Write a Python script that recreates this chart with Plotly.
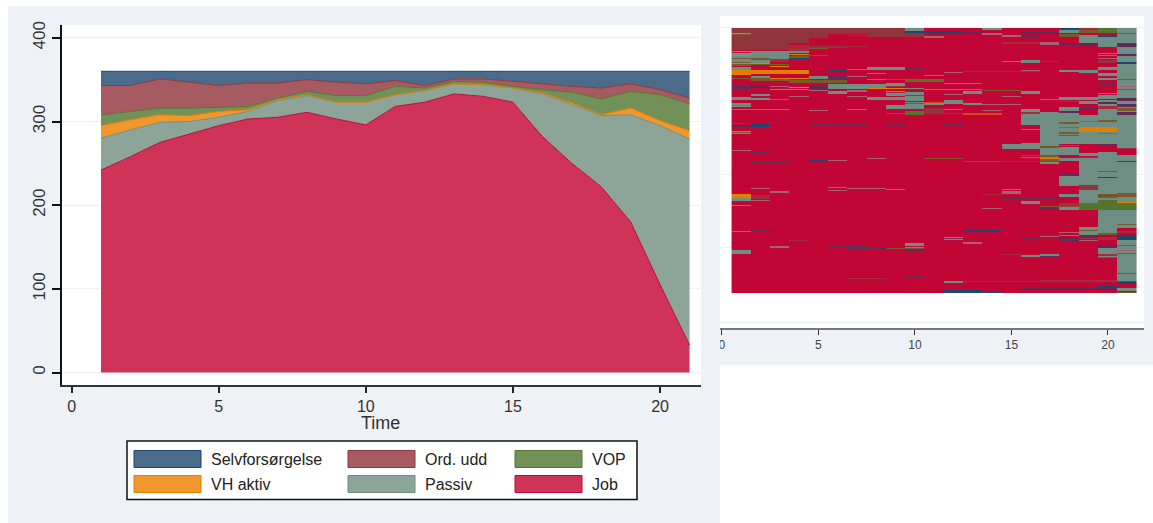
import plotly.graph_objects as go

# ---------- left chart: number of people per state at each time ----------
time = list(range(1, 22))
job = [242,258,275,285,295,303,305,311,303,296,318,323,333,330,323,282,250,222,180,105,33]
passiv = [38,32,24,15,10,9,20,20,20,27,14,14,12,14,17,51,70,85,128,190,246]
vh_aktiv = [15,12,9,7,7,2,1,1,0,0,0,0,0,0,0,1,2,1,8,6,10]
vop = [13,10,8,9,5,4,2,4,8,8,10,3,3,3,2,4,13,19,20,31,32]
ord_udd = [35,31,35,31,26,28,18,14,16,14,7,3,3,4,6,7,7,13,9,6,7]
selv = [17,17,9,13,17,14,14,10,13,15,11,17,9,9,12,15,18,20,15,22,32]

names = ["Selvforsørgelse", "Ord. udd", "VOP", "VH aktiv", "Passiv", "Job"]
line_cols = ["#1a476f", "#90353b", "#55752f", "#e37e00", "#6e8e84", "#c10534"]
fill_cols = ["#4a6b8a", "#a65b62", "#729158", "#f0982e", "#8ca598", "#cf3358"]
y_ticks = [0, 100, 200, 300, 400]
x_ticks = [0, 5, 10, 15, 20]

# ---------- right chart: sequence index plot ----------
S, O, V, H, P, J = 1, 2, 3, 4, 5, 6
s, o, v, h, p = 7, 8, 9, 10, 11
n_rows = 265
n_cols = 21
cell_cols = ["#1a476f", "#90353b", "#55752f", "#e37e00", "#6e8e84", "#c10534",
             "#5f2a55", "#a82a3c", "#7a5a2a", "#d84a10", "#a9606f"]
seq_runs = [
 (1,3,0,21,O),(4,4,0,14,O),(4,4,17,22,o),(5,5,0,9,O),(6,7,0,5,O),(8,9,0,8,O),(10,10,5,8,O),
 (5,6,18,19,O),(7,7,7,7,o),(7,7,18,18,o),(1,1,5,5,H),(1,1,6,6,v),
 (10,10,0,2,P),(10,12,3,4,S),(11,11,8,9,p),(13,13,4,5,s),(14,14,0,1,P),(14,14,5,6,p),(15,15,7,8,p),
 (16,17,4,5,s),(16,16,7,8,s),(17,17,14,16,p),(15,16,14,15,o),
 (18,18,0,0,S),(18,18,2,4,P),(18,18,6,8,v),(18,19,15,16,s),(19,19,0,1,o),(19,19,2,4,v),(19,19,7,14,P),
 (20,20,0,4,V),(20,20,8,9,S),(20,20,9,18,P),(21,21,0,5,P),(21,21,5,6,v),(21,21,6,14,P),(21,21,16,19,s),
 (21,21,19,25,P),(21,21,26,28,s),(21,21,28,33,P),(21,21,34,36,S),(21,21,36,92,P),
 (1,1,23,23,H),(1,1,25,33,P),(1,1,25,25,H),(1,1,27,27,H),(1,1,30,30,v),(1,1,34,34,v),(1,1,35,35,H),
 (1,1,36,37,v),(1,1,39,41,P),(2,3,23,30,P),(2,2,30,31,v),(2,2,32,36,P),(2,2,35,35,H),(3,3,31,33,o),
 (2,3,36,36,v),(3,3,38,38,H),(4,4,23,24,P),(4,4,26,26,H),(4,4,28,29,v),(4,4,30,30,S),
 (5,5,20,20,v),(5,5,27,27,v),(1,4,42,45,H),(1,1,46,46,H),
 (1,1,50,50,v),(2,2,48,49,P),(2,2,50,52,v),(3,3,50,50,H),(3,3,51,52,v),(4,4,50,50,H),(4,4,52,54,v),
 (5,5,48,50,P),(5,6,52,54,v),(6,6,42,42,S),(6,6,48,48,s),(6,6,50,50,s),(7,7,41,41,p),(7,7,48,48,p),
 (8,8,45,45,p),(8,8,51,51,p),(8,9,39,41,P),(10,10,40,40,s),(9,9,51,51,v),(10,11,51,53,V),(11,11,47,47,p),
 (12,12,44,44,p),(12,12,47,47,s),(12,13,55,55,p),
 (6,8,56,60,P),(9,9,55,57,P),(9,9,60,60,H),(8,8,60,60,H),(7,7,59,59,H),(9,9,58,58,o),
 (1,2,58,59,s),(3,3,58,58,p),(4,4,59,59,H),(4,4,61,61,P),(3,3,61,61,P),(1,1,60,60,s),(5,5,58,60,s),
 (5,5,62,62,p),(6,6,61,61,s),(6,6,63,65,P),(7,7,62,63,p),(7,7,68,68,p),
 (1,1,69,71,P),(2,2,66,67,P),(2,2,70,71,P),(3,3,71,71,h),(4,4,68,68,p),(5,5,67,67,s),(5,8,71,71,s),
 (8,9,69,71,P),(10,10,64,72,P),(10,10,67,67,o),(9,9,63,67,P),(9,9,64,64,o),(10,10,60,60,P),(11,11,61,61,p),
 (12,13,61,61,p),(12,12,66,66,p),(13,13,63,65,P),(14,15,62,62,v),(16,16,63,65,P),(15,15,68,68,p),
 (1,1,75,78,P),(1,1,77,77,p),(1,3,81,81,p),(5,5,82,82,p),(7,7,81,81,p),
 (9,9,77,80,P),(10,10,74,80,P),(10,10,75,75,v),(11,11,74,74,h),(11,11,75,76,P),(12,12,72,75,P),(12,12,77,77,s),
 (13,13,75,76,P),(14,14,76,76,p),(15,15,76,76,p),
 (9,11,85,85,v),(10,10,83,86,V),(11,11,80,85,O),(12,12,81,81,p),(12,12,85,85,o),(13,14,85,86,h),(14,14,82,82,p),
 (1,1,95,95,o),(1,1,97,98,s),(2,2,96,98,S),(3,4,97,97,s),(5,7,96,96,s),(9,9,96,96,s),(12,12,96,96,s),
 (11,12,103,103,s),(1,1,103,105,P),(1,1,104,104,v),
 (1,1,122,122,p),(2,2,124,124,s),(2,3,134,134,s),(5,5,132,132,S),(6,6,132,132,p),(8,8,130,130,p),
 (11,12,130,130,v),(13,14,133,133,v),(15,16,133,133,o),
 (13,16,43,43,o),(16,16,32,34,P),(15,15,33,33,p),(17,17,33,33,o),(18,19,33,33,s),(16,16,42,42,p),(18,19,42,43,P),
 (20,20,25,25,p),(20,20,27,27,p),(20,20,30,30,p),(20,20,32,34,o),(20,20,35,35,s),(20,20,39,41,P),(20,20,45,47,P),
 (20,20,50,51,P),(20,20,56,56,s),(20,20,65,65,p),(20,20,67,70,P),(20,20,72,85,P),(20,20,74,75,s),(20,20,78,80,o),
 (21,21,51,51,v),(21,21,58,58,p),(21,21,61,61,v),
 (19,19,69,71,P),(19,19,44,44,P),(18,18,69,71,P),(18,18,73,73,o),(18,18,79,83,P),(18,18,83,84,s),
 (19,19,77,77,s),(19,19,80,81,s),(19,19,73,75,P),(17,17,71,71,p),(17,17,75,75,s),(17,17,83,83,s),
 (21,21,70,72,s),(21,21,76,78,s),(21,21,84,86,s),(21,21,80,82,v),
 (16,16,81,96,P),(16,16,84,85,o),(16,16,101,101,p),(17,17,84,115,P),(18,18,85,114,P),(18,18,94,95,v),(18,18,99,99,h),
 (18,18,104,105,v),(19,19,87,114,P),(19,19,93,93,h),(19,19,99,103,H),(20,20,85,114,P),(20,20,92,93,v),
 (20,21,99,103,H),(20,21,105,105,h),(21,21,92,114,P),
 (15,15,116,120,P),(15,15,115,115,s),(16,16,115,120,P),
 (17,17,115,126,P),(17,17,118,119,v),(17,17,124,135,P),(17,17,127,128,v),(17,17,130,130,H),(17,17,131,133,v),
 (16,16,127,127,v),(16,16,129,129,p),
 (18,18,115,115,P),(18,18,107,107,v),(18,18,116,118,J),(18,18,117,117,v),(18,18,119,126,P),(18,18,130,133,P),(18,18,133,133,s),
 (18,18,145,146,s),(18,18,148,157,P),
 (19,19,115,115,P),(19,19,123,123,s),(19,19,125,127,P),(19,19,129,129,o),(19,19,130,174,P),(19,19,157,161,O),
 (20,20,115,115,P),(20,20,124,164,P),(20,20,116,116,s),(20,20,143,143,v),(20,20,149,149,s),
 (21,21,115,119,P),(21,21,120,126,J),(21,21,120,120,o),(21,21,125,125,s),(21,21,127,132,P),(21,21,134,174,P),
 (19,19,175,181,V),(20,20,165,171,P),(20,20,166,169,v),(20,20,167,167,o),(20,20,172,181,V),(20,20,182,204,P),
 (20,20,205,207,v),(20,20,207,207,s),(20,20,209,211,o),(20,20,212,216,J),(21,21,165,168,v),(21,21,174,174,H),(21,21,175,181,V),
 (21,21,182,199,P),(21,21,196,196,v),(21,21,200,206,J),(21,21,203,204,o),(21,21,207,211,S),(21,21,212,252,P),
 (19,19,199,206,P),(19,19,202,202,v),(19,19,207,211,s),(19,19,210,210,o),
 (18,18,166,168,P),(18,18,175,177,o),(18,18,178,178,v),(18,18,179,181,P),(18,18,204,204,p),(18,18,207,207,p),(18,18,209,210,s),
 (17,17,178,178,v),(17,17,180,180,s),(16,16,173,175,P),(15,17,170,170,s),(16,18,165,165,s),(15,15,163,165,p),
 (14,14,166,166,o),(13,13,165,165,s),(14,15,175,175,s),(14,14,180,180,p),(15,17,181,181,s),
 (13,14,202,203,S),(15,16,201,201,s),(12,12,209,211,P),(12,12,210,210,s),(10,10,215,217,P),(13,13,214,214,p),
 (16,16,210,210,s),(17,17,208,208,p),
 (1,1,166,169,H),(1,1,170,171,P),(2,2,167,170,h),(2,2,167,170,o),(2,2,172,172,p),(1,1,172,172,P),(1,1,175,175,s),(1,1,177,177,p),
 (3,3,163,164,p),(6,6,162,162,p),(1,1,157,157,s),(2,2,160,160,p),(6,6,159,159,p),(7,7,157,157,s),(7,7,160,160,p),
 (8,9,157,157,s),(8,8,160,160,p),(9,9,161,161,p),(15,15,161,161,p),(8,8,175,175,s),
 (1,1,203,203,p),(2,2,202,202,s),(3,3,201,201,s),(5,5,197,197,s),(4,4,212,212,o),
 (3,3,218,219,p),(6,7,218,218,s),(7,8,220,220,s),(9,9,220,220,v),(10,10,219,219,P),(10,10,220,220,v),(10,10,221,222,s),(13,13,215,215,p),
 (1,1,222,225,P),(15,15,226,226,o),(16,16,227,228,P),(17,17,226,227,P),(17,17,228,228,s),
 (20,20,217,219,s),(20,20,220,229,P),(20,20,226,227,o),(20,20,229,229,v),
 (21,21,217,217,v),(21,21,222,222,p),(21,21,225,225,v),(21,21,245,245,v),(21,21,253,253,o),(21,21,254,255,S),(21,21,257,257,s),
 (21,21,260,262,P),(21,21,264,264,v),(1,1,251,251,s),(7,9,249,249,s),(7,8,250,250,o),(10,10,248,248,s),(12,12,247,247,s),
 (12,12,253,254,P),(13,16,253,253,o),(17,20,252,253,o),(20,20,258,259,S),(16,20,260,260,s),(8,9,263,263,s),(11,11,263,263,S),
 (12,13,262,264,S),(14,14,264,264,S),(15,15,263,263,s),(16,17,261,261,s),(18,19,212,212,s),(19,19,212,212,p),(18,20,261,261,S),
]

seq_z = [[J] * n_cols for _ in range(n_rows)]
for c0, c1, r0, r1, state in seq_runs:
    for r in range(r0, r1 + 1):
        for c in range(c0, c1 + 1):
            seq_z[r][c - 1] = state

periods = list(range(1, n_cols + 1))
rows = list(range(n_rows))
seq_grid = [-1, 72, 146, 219, 294]

W, H_PX = 1153, 523
PANEL = "#eef1f6"
FONT = "Liberation Sans, Arial, sans-serif"
def fx(px): return px / W
def fy(py): return 1 - py / H_PX

fig = go.Figure()
for name, vals, lc, fc in [("Job", job, line_cols[5], fill_cols[5]),
                           ("Passiv", passiv, line_cols[4], fill_cols[4]),
                           ("VH aktiv", vh_aktiv, line_cols[3], fill_cols[3]),
                           ("VOP", vop, line_cols[2], fill_cols[2]),
                           ("Ord. udd", ord_udd, line_cols[1], fill_cols[1]),
                           ("Selvforsørgelse", selv, line_cols[0], fill_cols[0])]:
    fig.add_trace(go.Scatter(x=time, y=vals, name=name, mode="lines", stackgroup="one",
                             line=dict(color=lc, width=1), fillcolor=fc,
                             xaxis="x", yaxis="y", showlegend=False))

n_c = len(cell_cols)
scale = []
for i, c in enumerate(cell_cols):
    scale += [[i / n_c, c], [(i + 1) / n_c, c]]
fig.add_trace(go.Heatmap(x=periods, y=rows, z=seq_z, zmin=0.5, zmax=n_c + 0.5, colorscale=scale,
                         showscale=False, xaxis="x2", yaxis="y2", hoverinfo="skip"))

shapes = [
    dict(type="rect", xref="paper", yref="paper", x0=fx(8), x1=fx(720), y0=fy(6), y1=fy(523),
         fillcolor=PANEL, line_width=0, layer="below"),
    dict(type="rect", xref="paper", yref="paper", x0=fx(62), x1=fx(701), y0=fy(25), y1=fy(385),
         fillcolor="white", line_width=0, layer="below"),
    dict(type="rect", xref="paper", yref="paper", x0=fx(720), x1=fx(1153), y0=fy(6), y1=fy(365),
         fillcolor=PANEL, line_width=0, layer="below"),
    dict(type="rect", xref="paper", yref="paper", x0=fx(720), x1=fx(1144), y0=fy(16), y1=fy(328),
         fillcolor="white", line_width=0, layer="below"),
    dict(type="rect", xref="paper", yref="paper", x0=fx(710), x1=fx(720), y0=fy(335), y1=fy(352),
         fillcolor=PANEL, line_width=0, layer="above"),
    dict(type="rect", xref="paper", yref="paper", x0=fx(127), x1=fx(637), y0=fy(441), y1=fy(499.5),
         fillcolor="white", line=dict(color="#111111", width=1.5), layer="above"),
]
annotations = [dict(xref="paper", yref="paper", x=fx(380), y=fy(423), text="Time", showarrow=False,
                    xanchor="center", yanchor="middle", font=dict(family=FONT, size=18, color="#333333"))]
legend_x = [134, 348, 515]
legend_y = [459, 484]
for i, name in enumerate(names):
    col, row = i % 3, i // 3
    x0 = legend_x[col]
    yc = legend_y[row]
    shapes.append(dict(type="rect", xref="paper", yref="paper", x0=fx(x0), x1=fx(x0 + 67),
                       y0=fy(yc - 8.5), y1=fy(yc + 8.5), fillcolor=fill_cols[i],
                       line=dict(color=line_cols[i], width=1), layer="above"))
    annotations.append(dict(xref="paper", yref="paper", x=fx(x0 + 75), y=fy(yc), text=name,
                            showarrow=False, xanchor="left", yanchor="middle",
                            font=dict(family=FONT, size=16, color="#222222")))

fig.update_layout(
    width=W, height=H_PX, margin=dict(l=0, r=0, t=0, b=0, autoexpand=False), autosize=False,
    paper_bgcolor="white", plot_bgcolor="rgba(0,0,0,0)", showlegend=False,
    shapes=shapes, annotations=annotations,
    font=dict(family=FONT),
    xaxis=dict(domain=[fx(62), fx(701)], range=[-0.326, 21.39], tickvals=x_ticks, showgrid=False,
               zeroline=False, showline=True, linecolor="#333333", linewidth=2, ticks="outside",
               ticklen=6, tickwidth=1.5, tickcolor="#222222", tickfont=dict(size=16, color="#333333"),
               anchor="y"),
    yaxis=dict(domain=[fy(385), fy(25)], range=[-14.8, 415.3], tickvals=y_ticks, showgrid=True,
               gridcolor=PANEL, gridwidth=1, zeroline=False, showline=True, linecolor="#111111",
               linewidth=2, ticks="outside", ticklen=8, tickwidth=1.5, tickcolor="#111111",
               tickangle=-90, tickfont=dict(size=17, color="#333333"), anchor="x"),
    xaxis2=dict(domain=[fx(720), fx(1144)], range=[-0.1, 21.87], tickvals=x_ticks, showgrid=False,
                zeroline=False, showline=True, linecolor="#777777", linewidth=2, ticks="outside",
                ticklen=5, tickwidth=1, tickcolor="#333333", tickfont=dict(size=12, color="#444444"),
                anchor="y2"),
    yaxis2=dict(domain=[fy(328), fy(16)], range=[299.5, -12.5], tickvals=seq_grid, showgrid=True,
                gridcolor=PANEL, gridwidth=1, zeroline=False, showline=False, ticks="",
                showticklabels=False, anchor="x2"),
)

fig.write_html("out.html", config=dict(displayModeBar=False),
               post_script="document.body.style.margin='0';document.body.style.overflow='hidden';")
